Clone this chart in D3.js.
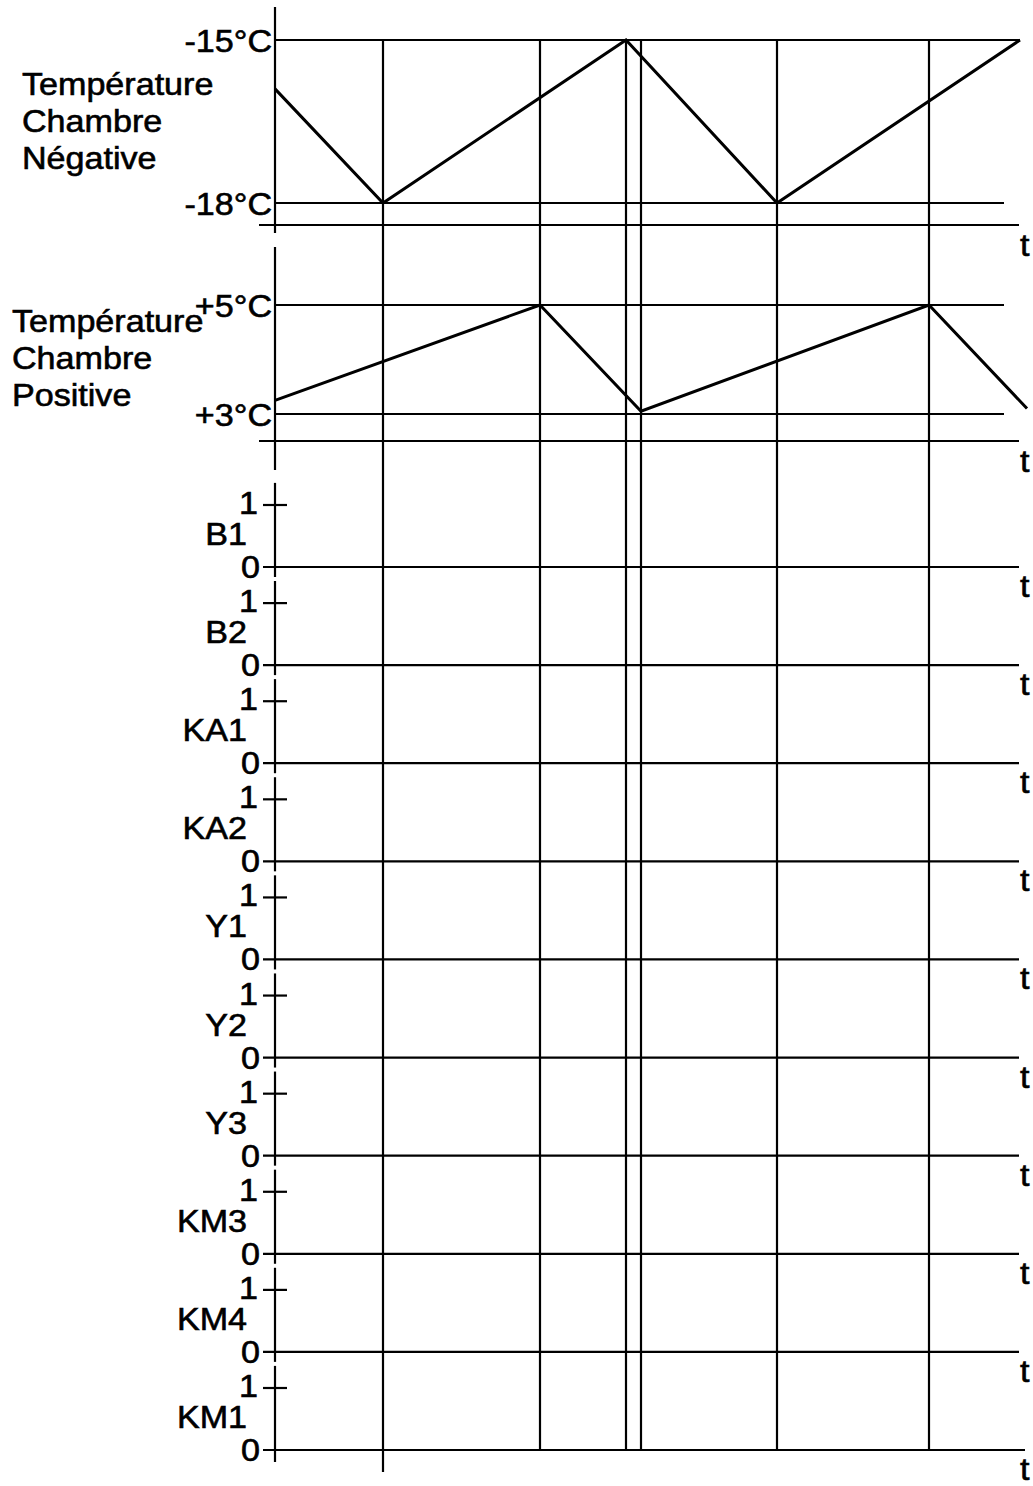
<!DOCTYPE html>
<html lang="fr">
<head>
<meta charset="UTF-8">
<title>Chronogramme chambres froides</title>
<style>
    body {
        margin: 0;
        background: #fff;
    }
    svg text {
        font-family: Arial, "Liberation Sans", Helvetica, sans-serif;
        font-size: 31px;
        fill: #000;
        stroke: #000;
        stroke-width: 0.6;
    }
    .line {
        stroke: #000;
        stroke-width: 2.2;
        fill: none;
    }
    .curve {
        stroke: #000;
        stroke-width: 3;
        fill: none;
    }
</style>
</head>
<body>
<svg id="chart" width="1033" height="1486"></svg>
<script src="https://d3js.org/d3.v7.min.js"></script>
<script>
    // temps des événements (traits verticaux)
    const eventTimes = [108, 265, 351, 366, 502, 654];

    // chambre négative
    const negTitle = ["Température", "Chambre", "Négative"];
    const negTimes = [0, 108, 351, 502, 745];
    const negValues = [-15.9, -18, -15, -18, -15];
    const negTicks = [-15, -18];
    const negTickLabels = ["-15°C", "-18°C"];

    // chambre positive
    const posTitle = ["Température", "Chambre", "Positive"];
    const posTimes = [0, 265, 366, 654, 752];
    const posValues = [3.25, 5, 3.05, 5, 3.1];
    const posTicks = [5, 3];
    const posTickLabels = ["+5°C", "+3°C"];

    // signaux logiques
    const signals = ["B1", "B2", "KA1", "KA2", "Y1", "Y2", "Y3", "KM3", "KM4", "KM1"];
    const levels = [0, 1];

    const svg = d3.select("#chart");
    const axisX = 275;
    const sx = 1.1; // léger étirement horizontal du texte

    const x = d3.scaleLinear().domain([0, 750]).range([axisX, axisX + 750]);

    function label(txt, px, py, anchor) {
        svg.append("text")
            .attr("transform", `translate(${px},${py}) scale(${sx},1)`)
            .attr("text-anchor", anchor || "start")
            .text(txt);
    }

    function hline(x1, x2, y) {
        svg.append("line").attr("class", "line")
            .attr("x1", x1).attr("x2", x2).attr("y1", y).attr("y2", y);
    }

    function vline(xp, y1, y2) {
        svg.append("line").attr("class", "line")
            .attr("x1", xp).attr("x2", xp).attr("y1", y1).attr("y2", y2);
    }

    // panneau température
    function tempPanel(y, ticks, tickLabels, times, values, title, titleX, titleY, axisTop, axisBottom, timeAxisY, topLong) {
        vline(axisX, axisTop, axisBottom);
        ticks.forEach((v, i) => {
            const xEnd = (i === 0 && topLong) ? x(745) : x(729);
            hline(axisX, xEnd, y(v));
            label(tickLabels[i], axisX - 3, y(v) + 12, "end");
        });
        hline(x(-16), x(744), timeAxisY);
        label("t", x(745), timeAxisY + 31, "start");
        title.forEach((t, i) => label(t, titleX, titleY + i * 37));

        const line = d3.line().x(d => x(d[0])).y(d => y(d[1]));
        svg.append("path").attr("class", "curve")
            .attr("d", line(times.map((t, i) => [t, values[i]])));
    }

    const yNeg = d3.scaleLinear().domain([-18, -15]).range([203, 40]);
    const yPos = d3.scaleLinear().domain([3, 5]).range([414, 305]);

    tempPanel(yNeg, negTicks, negTickLabels, negTimes, negValues, negTitle, 22, 95, 7, 233, 225, true);
    tempPanel(yPos, posTicks, posTickLabels, posTimes, posValues, posTitle, 12, 332, 247, 470, 441, false);

    // panneaux logiques
    const zeroPos = d3.scalePoint().domain(signals).range([567, 1450]);
    const step = zeroPos.step();

    signals.forEach((name, i) => {
        const z = zeroPos(name);
        const y = d3.scaleLinear().domain(levels).range([z, z - 62]);
        const bottom = i === signals.length - 1 ? z + 12 : z + 10;
        vline(axisX, z - step + 14, bottom);
        // niveau 1
        hline(x(-12), x(12), y(1));
        label("1", x(-17), y(1) + 9, "end");
        // niveau 0 = axe des temps
        hline(x(-12), i === signals.length - 1 ? x(750) : x(744), y(0));
        label("0", x(-15), y(0) + 11, "end");
        label(name, 247, z - 22, "end");
        label("t", x(745), z + 30, "start");
    });

    // traits verticaux des événements
    const lastZero = zeroPos(signals[signals.length - 1]);
    eventTimes.forEach((t, i) => {
        vline(x(t), yNeg(-15), i === 0 ? lastZero + 22 : lastZero);
    });
</script>
</body>
</html>
